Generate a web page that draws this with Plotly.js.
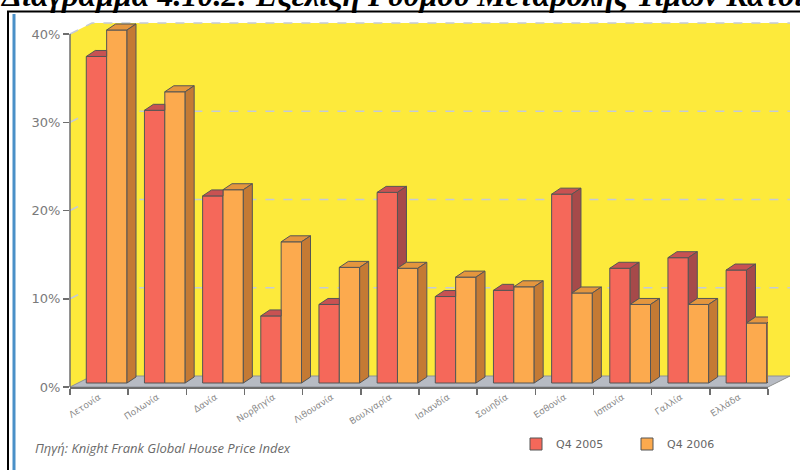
<!DOCTYPE html>
<html>
<head>
<meta charset="utf-8">
<script src="https://cdn.plot.ly/plotly-3.0.1.min.js"></script>
<style>
  html, body { margin: 0; padding: 0; background: #ffffff; }
  #chart { width: 800px; height: 470px; }
</style>
</head>
<body>
<div id="chart"></div>
<script>
// Annual change in house prices, Q4 2005 vs Q4 2006 (%)
const categories = ['Λετονία', 'Πολωνία', 'Δανία', 'Νορβηγία', 'Λιθουανία', 'Βουλγαρία',
                    'Ισλανδία', 'Σουηδία', 'Εσθονία', 'Ισπανία', 'Γαλλία', 'Ελλάδα'];
const q4_2005 = [37.0, 30.9, 21.2, 7.6, 8.9, 21.6, 9.8, 10.5, 21.4, 13.0, 14.2, 12.8];
const q4_2006 = [40.0, 33.0, 21.9, 16.0, 13.1, 13.0, 12.0, 10.9, 10.2, 8.9, 8.9, 6.8];
const seriesNames = ['Q4 2005', 'Q4 2006'];
const yTicks = [0, 10, 20, 30, 40];

// page geometry (pixels)
const W = 800, H = 470;
const M = { l: 70, r: 32, t: 22, b: 83 };
const plotW = W - M.l - M.r, plotH = H - M.t - M.b;
const px = x => (x - M.l) / plotW;          // pixel -> paper x
const py = y => (H - M.b - y) / plotH;      // pixel -> paper y

// front axis runs from 0% at the bottom edge up to 40% at y = 34px;
// the plot area reaches a little higher so the tallest bar's top face fits
const yBase = H - M.b, yTop = 34;
const yMax = yTicks[yTicks.length - 1];
const pxPerY = (yBase - yTop) / yMax;
// the bar fronts stand a few pixels behind the axis line
const frontLift = 4;
const shiftY = frontLift / pxPerY;
const xRange = [-0.5, categories.length - 0.5];
const yRange = [-shiftY, plotH / pxPerY - shiftY];
const pxPerX = plotW / (xRange[1] - xRange[0]);

// 3D look
const barW = 0.35, offs = [-0.22, 0.13];
const dX = 9 / pxPerX, dY = 6 / pxPerY;      // bar depth
const wallDX = 22, wallDY = 11;              // wall depth in pixels

const col = {
  redFront: '#f5685a', redSide: '#a64a4a', redTop: '#c85252',
  orgFront: '#fcaa4e', orgSide: '#c47a34', orgTop: '#e4963e',
  edge: '#555555', axis: '#6e6e6e'
};

function poly(pts, acc) {
  pts.forEach(p => { acc.x.push(p[0]); acc.y.push(p[1]); });
  acc.x.push(pts[0][0]); acc.y.push(pts[0][1]);
  acc.x.push(null); acc.y.push(null);
}

const redTop = { x: [], y: [] }, redSide = { x: [], y: [] };
const orgTop = { x: [], y: [] }, orgSide = { x: [], y: [] };
categories.forEach((c, i) => {
  const r = q4_2005[i], o = q4_2006[i];
  const rl = i + offs[0], rr = rl + barW;
  const ol = i + offs[1], orr = ol + barW;
  // red top and side: the part behind the orange bar stays hidden
  if (r >= o) {
    poly([[rl, r], [rl + dX, r + dY], [rr + dX, r + dY], [rr, r]], redTop);
    poly([[rr, o], [rr + dX, o + dY], [rr + dX, r + dY], [rr, r]], redSide);
  } else {
    poly([[rl, r], [rl + dX, r + dY], [rr, r + dY], [rr, r]], redTop);
  }
  poly([[ol, o], [ol + dX, o + dY], [orr + dX, o + dY], [orr, o]], orgTop);
  poly([[orr, 0], [orr + dX, dY], [orr + dX, o + dY], [orr, o]], orgSide);
});

const idx = categories.map((c, i) => i);
const faceTrace = (d, fill) => ({
  type: 'scatter', mode: 'lines', x: d.x, y: d.y,
  fill: 'toself', fillcolor: fill, line: { color: col.edge, width: 1 },
  connectgaps: false, showlegend: false, hoverinfo: 'skip'
});

const traces = [
  { type: 'bar', name: seriesNames[0], x: idx, y: q4_2005,
    width: barW, offset: offs[0],
    marker: { color: col.redFront, line: { color: col.edge, width: 1 } } },
  { type: 'bar', name: seriesNames[1], x: idx, y: q4_2006,
    width: barW, offset: offs[1],
    marker: { color: col.orgFront, line: { color: col.edge, width: 1 } } },
  faceTrace(redTop, col.redTop),
  faceTrace(redSide, col.redSide),
  faceTrace(orgTop, col.orgTop),
  faceTrace(orgSide, col.orgSide)
];

// walls, floor and dashed back gridlines
const x0 = M.l, x1 = M.l + plotW;
const backRight = 790;
const shapes = [
  { type: 'path', xref: 'paper', yref: 'paper', layer: 'below',
    path: `M${px(x0)},${py(yTop)} L${px(x0 + wallDX)},${py(yTop - wallDY)} L${px(backRight)},${py(yTop - wallDY)} ` +
          `L${px(backRight)},${py(yBase - wallDY)} L${px(x1)},${py(yBase)} L${px(x0)},${py(yBase)} Z`,
    fillcolor: '#fdea3b', line: { width: 0 } },
  { type: 'path', xref: 'paper', yref: 'paper', layer: 'below',
    path: `M${px(x0)},${py(yBase)} L${px(x0 + wallDX)},${py(yBase - wallDY)} L${px(backRight)},${py(yBase - wallDY)} L${px(x1)},${py(yBase)} Z`,
    fillcolor: '#b7bbc3', line: { color: '#8d9098', width: 1 } },
  // value axis line, from 0% to 40%
  { type: 'line', xref: 'paper', yref: 'paper', layer: 'above',
    x0: 0, x1: 0, y0: py(yBase), y1: py(yTop), line: { color: col.axis, width: 1.5 } }
];
yTicks.filter(t => t > 0).forEach(t => {
  const yf = yBase - t * pxPerY;
  shapes.push({ type: 'path', xref: 'paper', yref: 'paper', layer: 'below',
    path: `M${px(x0)},${py(yf)} L${px(x0 + wallDX)},${py(yf - wallDY)} L${px(backRight)},${py(yf - wallDY)}`,
    line: { color: '#c4cad8', width: 1.5, dash: 'dash' } });
});
// page frame
shapes.push(
  { type: 'line', xref: 'paper', yref: 'paper', x0: px(7), x1: px(800), y0: py(11.5), y1: py(11.5),
    line: { color: '#000000', width: 2 } },
  { type: 'line', xref: 'paper', yref: 'paper', x0: px(8), x1: px(8), y0: py(11), y1: py(470),
    line: { color: '#000000', width: 2 } },
  { type: 'line', xref: 'paper', yref: 'paper', x0: px(14), x1: px(14), y0: py(14), y1: py(470),
    line: { color: '#4a90c8', width: 3 } }
);

const layout = {
  width: W, height: H, margin: M,
  paper_bgcolor: '#ffffff', plot_bgcolor: 'rgba(0,0,0,0)',
  barmode: 'overlay', showlegend: true,
  xaxis: {
    range: xRange, tickvals: idx, ticktext: categories, ticks: '',
    tickangle: -33, tickfont: { family: 'DejaVu Sans', size: 9, color: '#8a8a8a' },
    showline: true, linecolor: col.axis, linewidth: 1.5, showgrid: false, zeroline: false,
    minor: { tick0: -0.5, dtick: 1, ticks: 'outside', ticklen: 6, tickcolor: col.axis, tickwidth: 1.5, showgrid: false },
    fixedrange: true
  },
  yaxis: {
    range: yRange, tickvals: yTicks.map(t => t - shiftY), ticktext: yTicks.map(v => v + '%'),
    ticks: 'outside', ticklen: 6, tickcolor: col.axis, tickwidth: 1.5,
    tickfont: { family: 'DejaVu Sans', size: 13, color: '#7a7a7a' },
    showline: false, showgrid: false, zeroline: false,
    fixedrange: true
  },
  legend: {
    orientation: 'h', x: px(516), xanchor: 'left', y: py(444), yanchor: 'middle',
    font: { family: 'DejaVu Sans', size: 11, color: '#666666' },
    entrywidth: 66, entrywidthmode: 'pixels', bgcolor: 'rgba(0,0,0,0)'
  },
  annotations: [
    { xref: 'paper', yref: 'paper', x: px(-2), y: py(-5), xanchor: 'left', yanchor: 'middle',
      text: '<b><i>Διάγραμμα 4.10.2: Εξέλιξη Ρυθμού Μεταβολής Τιμών Κατοικιών</i></b>',
      showarrow: false, font: { family: 'Liberation Serif', size: 32, color: '#000000' } },
    { xref: 'paper', yref: 'paper', x: px(33), y: py(448), xanchor: 'left', yanchor: 'middle',
      text: '<i>Πηγή: Knight Frank Global House Price Index</i>', showarrow: false,
      font: { family: 'Open Sans', size: 13, color: '#6a6a6a' } }
  ],
  shapes: shapes
};

Plotly.newPlot('chart', traces, layout, { displayModeBar: false, staticPlot: true });
</script>
</body>
</html>
